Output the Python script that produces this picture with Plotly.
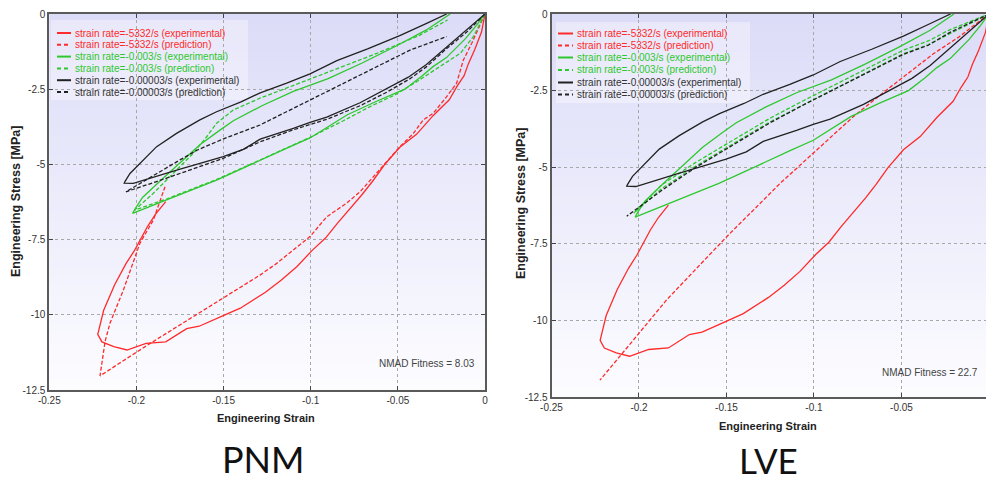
import plotly.graph_objects as go

# ---------------- data ----------------
x_tickvals = [-0.25, -0.2, -0.15, -0.1, -0.05, 0]
x_ticktext = ["-0.25", "-0.2", "-0.15", "-0.1", "-0.05", "0"]
y_tickvals = [0, -2.5, -5, -7.5, -10, -12.5]
y_ticktext = ["0", "-2.5", "-5", "-7.5", "-10", "-12.5"]

series_names = [
    "strain rate=-5332/s (experimental)",
    "strain rate=-5332/s (prediction)",
    "strain rate=-0.003/s (experimental)",
    "strain rate=-0.003/s (prediction)",
    "strain rate=-0.00003/s (experimental)",
    "strain rate=-0.00003/s (prediction)",
]
panel_labels = ["PNM", "LVE"]
fitness_labels = ["NMAD Fitness = 8.03", "NMAD Fitness = 22.7"]

# experimental curves (same in both panels)
red_exp_strain = [0, -0.002, -0.006, -0.0095, -0.012, -0.016, -0.0205, -0.0298, -0.0393, -0.0489,
                  -0.0578, -0.0645, -0.0705, -0.0775, -0.0846, -0.0915, -0.0990, -0.1080, -0.1170,
                  -0.1260, -0.1404, -0.1502, -0.1640, -0.1712, -0.1832, -0.1945, -0.2054, -0.2130,
                  -0.2198, -0.2222, -0.2188, -0.2125, -0.2060, -0.2010, -0.1978, -0.1935, -0.1890, -0.1832]
red_exp_stress = [0, -0.6, -1.2, -1.65, -2.05, -2.4, -2.85, -3.38, -4.0, -4.43,
                  -5.02, -5.56, -6.0, -6.46, -6.95, -7.45, -7.85, -8.4, -8.85,
                  -9.25, -9.78, -10.03, -10.38, -10.46, -10.9, -10.95, -11.17, -11.06,
                  -10.9, -10.65, -9.85, -9.0, -8.3, -7.85, -7.5, -7.05, -6.65, -6.24]

green_exp_strain = [0, -0.0048, -0.0112, -0.0221, -0.0298, -0.0365, -0.0460, -0.0622, -0.0790,
                    -0.1004, -0.1140, -0.1265, -0.1540, -0.1827, -0.2022,
                    -0.2005, -0.1965, -0.1855, -0.1790, -0.1712, -0.1636, -0.1521, -0.1444,
                    -0.1280, -0.1100, -0.0900, -0.0705, -0.0515, -0.0336, -0.0200]
green_exp_stress = [0, -0.37, -0.82, -1.45, -1.75, -2.08, -2.5, -2.9, -3.35,
                    -4.12, -4.47, -4.8, -5.52, -6.18, -6.63,
                    -6.45, -6.1, -5.5, -5.15, -4.74, -4.35, -3.86, -3.55,
                    -3.05, -2.57, -2.15, -1.63, -1.08, -0.53, 0]

black_exp_strain = [0, -0.0105, -0.0220, -0.0336, -0.0440, -0.0570, -0.0717, -0.0908, -0.1004,
                    -0.1100, -0.1290, -0.1387, -0.1502, -0.1769, -0.2018, -0.2070,
                    -0.2066, -0.2037, -0.1980, -0.1884, -0.1770, -0.1636, -0.1540, -0.1400,
                    -0.1290, -0.1138, -0.1004, -0.0850, -0.0670, -0.0489, -0.0335, -0.0220]
black_exp_stress = [0, -0.53, -1.09, -1.68, -2.1, -2.5, -2.95, -3.43, -3.6,
                    -3.8, -4.16, -4.5, -4.74, -5.19, -5.63, -5.62,
                    -5.57, -5.3, -4.96, -4.41, -3.97, -3.52, -3.25, -2.92,
                    -2.62, -2.3, -1.99, -1.55, -1.15, -0.72, -0.31, 0]

# PNM predictions
pnm_red_pred_strain = [0, -0.0048, -0.0076, -0.0124, -0.0163, -0.0220, -0.0297, -0.0354, -0.0411,
                       -0.0488, -0.0574, -0.0660, -0.0717, -0.0794, -0.0908, -0.1004, -0.1100,
                       -0.1195, -0.1291, -0.1600, -0.1940, -0.2209,
                       -0.2180, -0.2152, -0.2075, -0.1980, -0.1903, -0.1836]
pnm_red_pred_stress = [0, -0.64, -0.97, -1.53, -2.3, -2.75, -3.3, -3.52, -3.97,
                       -4.41, -4.96, -5.52, -5.91, -6.29, -6.74, -7.4, -7.85,
                       -8.29, -8.68, -9.8, -11.02, -12.03,
                       -10.89, -10.28, -9.18, -7.62, -6.85, -5.74]

pnm_green_pred_strain = [0, -0.0067, -0.0140, -0.0220, -0.0392, -0.0520, -0.0650, -0.0813, -0.1004,
                         -0.1270, -0.1540, -0.1827, -0.2010,
                         -0.1999, -0.1903, -0.1827, -0.1750, -0.1674, -0.1597, -0.1540, -0.1444,
                         -0.1291, -0.1043, -0.0813, -0.0621, -0.0373, -0.0215]
pnm_green_pred_stress = [0, -0.75, -1.3, -1.6, -2.25, -2.7, -3.05, -3.55, -4.1,
                         -4.8, -5.5, -6.15, -6.52,
                         -6.46, -5.96, -5.52, -5.08, -4.63, -4.08, -3.63, -3.19,
                         -2.8, -2.25, -1.75, -1.31, -0.7, -0.2]

pnm_black_pred_strain = [0, -0.0105, -0.0220, -0.0335, -0.0430, -0.0564, -0.0717, -0.0908, -0.1100,
                         -0.1291, -0.1502, -0.1693, -0.1884, -0.2060,
                         -0.2000, -0.1884, -0.1750, -0.1650, -0.1500, -0.1291, -0.1195, -0.1004,
                         -0.0813, -0.0621, -0.0430, -0.0220]
pnm_black_pred_stress = [0, -0.6, -1.15, -1.75, -2.15, -2.6, -3.05, -3.5, -3.85,
                         -4.25, -4.8, -5.19, -5.57, -5.91,
                         -5.7, -5.3, -4.85, -4.52, -4.15, -3.69, -3.41, -2.86,
                         -2.3, -1.75, -1.2, -0.75]

# LVE predictions
lve_red_pred_strain = [0, -0.0170, -0.0318, -0.0490, -0.0585, -0.0775, -0.1004, -0.1194, -0.1499,
                       -0.1842, -0.2032, -0.2223]
lve_red_pred_stress = [0, -0.74, -1.3, -2.05, -2.48, -3.35, -4.55, -5.53, -7.27,
                       -9.33, -10.64, -11.95]

lve_green_pred_strain = [0, -0.0223, -0.0347, -0.0490, -0.0680, -0.0870, -0.1061, -0.1251, -0.1490,
                         -0.1680, -0.1871, -0.2030,
                         -0.1871, -0.1680, -0.1490, -0.1251, -0.1061, -0.0870, -0.0680, -0.0490,
                         -0.0347, -0.0223, 0]
lve_green_pred_stress = [0, -0.63, -1.0, -1.3, -1.85, -2.4, -2.95, -3.52, -4.33,
                         -4.98, -5.7, -6.5,
                         -5.58, -4.86, -4.21, -3.4, -2.83, -2.28, -1.73, -1.18,
                         -0.88, -0.51, 0]

lve_black_pred_strain = [0, -0.0223, -0.0347, -0.0490, -0.0680, -0.0870, -0.1061, -0.1251, -0.1490,
                         -0.1680, -0.1871, -0.2070]
lve_black_pred_stress = [0, -0.6, -1.02, -1.32, -1.87, -2.42, -2.97, -3.55, -4.36,
                         -5.02, -5.76, -6.6]

# ---------------- styling ----------------
RED = "#ff2a2a"
GREEN = "#2ec82e"
BLACK = "#222222"
colors = [RED, RED, GREEN, GREEN, BLACK, BLACK]
dashes = ["solid", "dash", "solid", "dash", "solid", "dash"]

W, H = 986, 483

def px(x):
    return x / W

def py(y):
    return 1 - y / H

fig = go.Figure()

panels = [
    dict(xa="x", ya="y", preds=[(pnm_red_pred_strain, pnm_red_pred_stress),
                                (pnm_green_pred_strain, pnm_green_pred_stress),
                                (pnm_black_pred_strain, pnm_black_pred_stress)]),
    dict(xa="x2", ya="y2", preds=[(lve_red_pred_strain, lve_red_pred_stress),
                                  (lve_green_pred_strain, lve_green_pred_stress),
                                  (lve_black_pred_strain, lve_black_pred_stress)]),
]
exps = [(red_exp_strain, red_exp_stress), (green_exp_strain, green_exp_stress),
        (black_exp_strain, black_exp_stress)]

for p in panels:
    for k in range(3):
        ex, ey = exps[k]
        fig.add_trace(go.Scatter(x=ex, y=ey, mode="lines", xaxis=p["xa"], yaxis=p["ya"],
                                 name=series_names[2 * k], showlegend=False,
                                 line=dict(color=colors[2 * k], width=1.3)))
        qx, qy = p["preds"][k]
        fig.add_trace(go.Scatter(x=qx, y=qy, mode="lines", xaxis=p["xa"], yaxis=p["ya"],
                                 name=series_names[2 * k + 1], showlegend=False,
                                 line=dict(color=colors[2 * k + 1], width=1.3, dash="4px,2px")))

tickfont = dict(family="Liberation Sans, Arial, sans-serif", size=10, color="#333")
common_x = dict(range=[-0.25, 0], tickvals=x_tickvals, ticktext=x_ticktext, showgrid=True,
                gridcolor="#a8a8a8", griddash="dot", gridwidth=1, zeroline=False, showline=True,
                linecolor="#5a5a5a", linewidth=2, ticks="inside", ticklen=4, tickcolor="#444",
                tickfont=tickfont, automargin=False)
common_y = dict(range=[-12.5, 0], tickvals=y_tickvals, ticktext=y_ticktext, showgrid=True,
                gridcolor="#a8a8a8", griddash="dot", gridwidth=1, zeroline=False, showline=True,
                linecolor="#5a5a5a", linewidth=2, ticks="inside", ticklen=4, tickcolor="#444",
                tickfont=tickfont, automargin=False)

# panel pixel boxes
L = dict(x0=49.3, x1=485, y0=14, y1=390)
R = dict(x0=551.5, x1=986, y0=14, y1=397)

fig.update_layout(
    width=W, height=H, margin=dict(l=0, r=0, t=0, b=0, autoexpand=False),
    paper_bgcolor="white", plot_bgcolor="#fbfbff", showlegend=False,
    xaxis=dict(common_x, domain=[px(L["x0"]), px(L["x1"])], anchor="y", mirror="ticks"),
    yaxis=dict(common_y, domain=[py(L["y1"]), py(L["y0"])], anchor="x", mirror="ticks"),
    xaxis2=dict(common_x, domain=[px(R["x0"]), 1.0], anchor="y2", mirror="ticks",
                range=[-0.25, -0.0017]),
    yaxis2=dict(common_y, domain=[py(R["y1"]), py(R["y0"])], anchor="x2", mirror=False),
)

shapes = []
annotations = []

# vertical gradient background (lavender top -> near white bottom)
top_c = (220, 220, 248)
bot_c = (252, 252, 255)
NB = 40
for xa, ya in [("x", "y"), ("x2", "y2")]:
    for i in range(NB):
        t = i / (NB - 1)
        c = tuple(round(bot_c[j] + (top_c[j] - bot_c[j]) * t) for j in range(3))
        shapes.append(dict(type="rect", xref=xa + " domain", yref=ya + " domain",
                           x0=0, x1=1, y0=i / NB, y1=(i + 1) / NB + 0.002,
                           fillcolor="rgb(%d,%d,%d)" % c, line=dict(width=0), layer="below"))

# manual legends
legend_specs = [
    dict(box=(51, 20, 248, 100), x_line=(57, 71), x_text=73,
         rows=[33, 44.8, 56.6, 68.4, 80.2, 92]),
    dict(box=(556, 22, 750, 103), x_line=(558, 573), x_text=575,
         rows=[33.5, 45.5, 57.5, 70, 82.5, 94.5]),
]
for spec in legend_specs:
    bx0, by0, bx1, by1 = spec["box"]
    shapes.append(dict(type="rect", xref="paper", yref="paper", x0=px(bx0), x1=px(bx1),
                       y0=py(by1), y1=py(by0), fillcolor="rgba(255,255,255,0.35)",
                       line=dict(width=0), layer="below"))
    for k in range(6):
        yy = spec["rows"][k]
        shapes.append(dict(type="line", xref="paper", yref="paper",
                           x0=px(spec["x_line"][0]), x1=px(spec["x_line"][1]),
                           y0=py(yy), y1=py(yy),
                           line=dict(color=colors[k], width=2,
                                     dash="solid" if dashes[k] == "solid" else "4px,3px")))
        annotations.append(dict(xref="paper", yref="paper", x=px(spec["x_text"]), y=py(yy),
                                text=series_names[k], showarrow=False, xanchor="left",
                                yanchor="middle",
                                font=dict(family="Liberation Sans, Arial, sans-serif",
                                          size=10, color=colors[k] if k < 4 else "#333")))

# axis titles
title_font_x = dict(family="Liberation Sans, Arial, sans-serif", size=11, color="#222")
title_font_y = dict(family="Liberation Sans, Arial, sans-serif", size=12.5, color="#222")
for cx, cy, yx, yy in [(266, 418, 16, 202), (768, 426, 521, 204)]:
    annotations.append(dict(xref="paper", yref="paper", x=px(cx), y=py(cy),
                            text="<b>Engineering Strain</b>", showarrow=False,
                            xanchor="center", yanchor="middle", font=title_font_x))
    annotations.append(dict(xref="paper", yref="paper", x=px(yx), y=py(yy),
                            text="<b>Engineering Stress [MPa]</b>", showarrow=False,
                            textangle=-90, xanchor="center", yanchor="middle",
                            font=title_font_y))

# fitness notes
for (tx, ty), txt in zip([(477, 363), (980, 372)], fitness_labels):
    annotations.append(dict(xref="paper", yref="paper", x=px(tx), y=py(ty), text=txt,
                            showarrow=False, xanchor="right", yanchor="middle",
                            font=dict(family="Liberation Sans, Arial, sans-serif", size=10,
                                      color="#444")))

# big panel labels
annotations.append(dict(xref="paper", yref="paper", x=px(263), y=py(459), text=panel_labels[0],
                        showarrow=False, xanchor="center", yanchor="middle",
                        font=dict(family="Lato, Open Sans, sans-serif", size=36, color="#111")))
annotations.append(dict(xref="paper", yref="paper", x=px(768), y=0, text=panel_labels[1],
                        showarrow=False, xanchor="center", yanchor="bottom",
                        font=dict(family="Lato, Open Sans, sans-serif", size=35, color="#111")))

fig.update_layout(shapes=shapes, annotations=annotations)
fig.write_html("out.html", config={"displayModeBar": False},
               post_script="document.body.style.margin='0';document.body.style.padding='0';")
